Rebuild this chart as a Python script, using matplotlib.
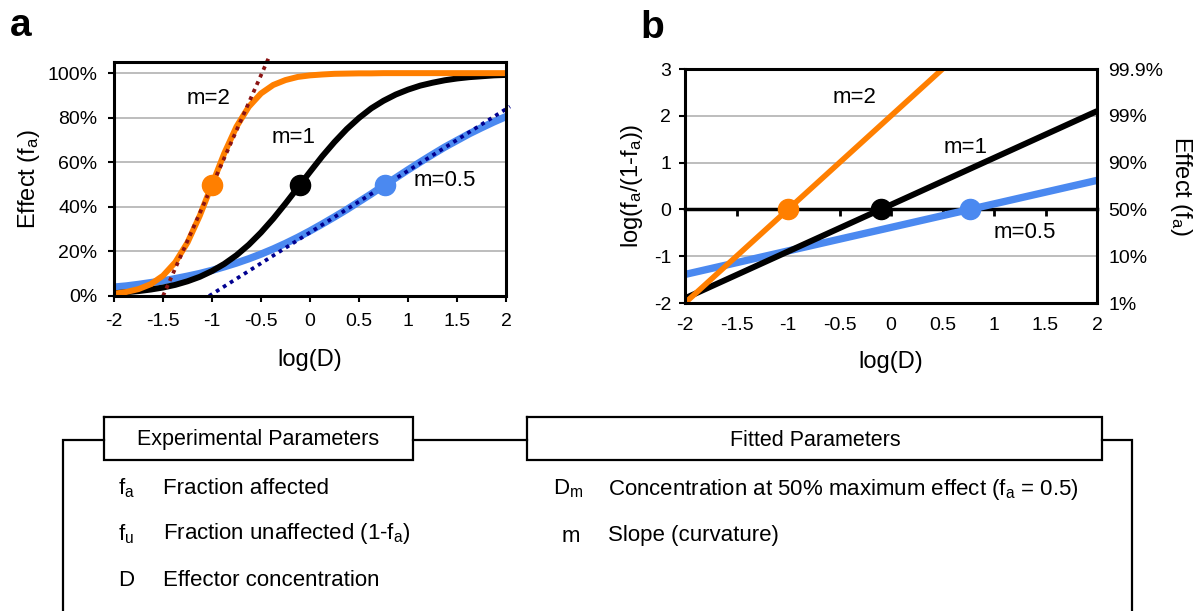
import matplotlib
matplotlib.use("Agg")
import matplotlib.pyplot as plt

plt.rcParams['font.family'] = ['Liberation Sans', 'DejaVu Sans']
plt.rcParams['mathtext.fontset'] = 'custom'
plt.rcParams['mathtext.rm'] = 'Liberation Sans'
plt.rcParams['mathtext.it'] = 'Liberation Sans'
plt.rcParams['mathtext.default'] = 'regular'

# ---------------- data ----------------
x_a = [-2.0, -1.875, -1.75, -1.625, -1.5, -1.375, -1.25, -1.125, -1.0,
       -0.875, -0.75, -0.625, -0.5, -0.375, -0.25, -0.125, 0.0,
       0.125, 0.25, 0.375, 0.5, 0.625, 0.75, 0.875, 1.0,
       1.125, 1.25, 1.375, 1.5, 1.625, 1.75, 1.875, 2.0]
fa_m2 = [0.010, 0.018, 0.031, 0.053, 0.091, 0.151, 0.240, 0.360, 0.500,
         0.640, 0.760, 0.849, 0.909, 0.947, 0.969, 0.983, 0.990,
         0.994, 0.997, 0.998, 0.999, 0.999, 1.0, 1.0, 1.0,
         1.0, 1.0, 1.0, 1.0, 1.0, 1.0, 1.0, 1.0]
fa_m1 = [0.012, 0.017, 0.022, 0.029, 0.038, 0.050, 0.066, 0.086, 0.112,
         0.144, 0.183, 0.230, 0.285, 0.347, 0.415, 0.486, 0.557,
         0.627, 0.691, 0.749, 0.799, 0.842, 0.876, 0.904, 0.926,
         0.944, 0.957, 0.968, 0.976, 0.982, 0.986, 0.990, 0.992]
fa_m05 = [0.040, 0.045, 0.052, 0.060, 0.068, 0.078, 0.089, 0.101, 0.115,
          0.131, 0.148, 0.167, 0.188, 0.211, 0.236, 0.263, 0.292,
          0.323, 0.355, 0.388, 0.423, 0.458, 0.495, 0.530, 0.566,
          0.601, 0.635, 0.668, 0.698, 0.728, 0.755, 0.781, 0.805]

dm_x = [-1.0, -0.1, 0.77]       # log(Dm) for m=2, m=1, m=0.5
dm_fa = [0.5, 0.5, 0.5]
dm_logit = [0.0, 0.0, 0.0]

tan_m2_x = [-1.5, -0.42]
tan_m2_y = [0.0, 1.07]
tan_m05_x = [-1.03, 2.04]
tan_m05_y = [0.0, 0.85]

x_b = [-2.0, 2.0]
logit_m2 = [-2.0, 6.0]
logit_m1 = [-1.9, 2.1]
logit_m05 = [-1.39, 0.62]

xticks = [-2, -1.5, -1, -0.5, 0, 0.5, 1, 1.5, 2]
xticklabels = ['-2', '-1.5', '-1', '-0.5', '0', '0.5', '1', '1.5', '2']
yticks_a = [0, 0.2, 0.4, 0.6, 0.8, 1.0]
yticklabels_a = ['0%', '20%', '40%', '60%', '80%', '100%']
yticks_b = [-2, -1, 0, 1, 2, 3]
yticklabels_b = ['-2', '-1', '0', '1', '2', '3']
yticklabels_b_right = ['1%', '10%', '50%', '90%', '99%', '99.9%']

ORANGE = '#FF7F00'
BLUE = '#4B89F0'
BLACK = '#000000'
GRID = '#BDBDBD'

W, H = 1194, 611
fig = plt.figure(figsize=(W / 100, H / 100), dpi=100)


def px_axes(l, t, r, b):
    return fig.add_axes([l / W, 1 - b / H, (r - l) / W, (b - t) / H])


TICK_FS = 14
LAB_FS = 17
ANN_FS = 16
MS = 14.5

# ---------------- panel a ----------------
ax = px_axes(114, 62, 506, 296)
ax.set_xlim(-2, 2)
ax.set_ylim(0, 1.05)
for y in yticks_a[1:]:
    ax.axhline(y, color=GRID, lw=1.4, zorder=1)
ax.plot(x_a, fa_m05, color=BLUE, lw=5.3, zorder=3)
ax.plot(x_a, fa_m1, color=BLACK, lw=4.3, zorder=4)
ax.plot(x_a, fa_m2, color=ORANGE, lw=4.3, zorder=5)
ax.plot(tan_m2_x, tan_m2_y, color='#8B1414', lw=2.7, dashes=(1, 1.2),
        zorder=6, clip_on=False)
ax.plot(tan_m05_x, tan_m05_y, color='#000090', lw=2.7, dashes=(1, 1.2),
        zorder=6, clip_on=False)
for xx, yy, c in zip(dm_x, dm_fa, [ORANGE, BLACK, BLUE]):
    ax.plot([xx], [yy], 'o', ms=MS, color=c, mec=c, zorder=7)
ax.text(-1.04, 0.885, 'm=2', fontsize=ANN_FS, ha='center', va='center')
ax.text(-0.17, 0.713, 'm=1', fontsize=ANN_FS, ha='center', va='center')
ax.text(1.38, 0.52, 'm=0.5', fontsize=ANN_FS, ha='center', va='center')
ax.set_xticks(xticks)
ax.set_xticklabels(xticklabels, fontsize=TICK_FS)
ax.set_yticks(yticks_a)
ax.set_yticklabels(yticklabels_a, fontsize=TICK_FS)
ax.tick_params(axis='both', direction='out', length=4, width=1.5, pad=8)
for s in ax.spines.values():
    s.set_linewidth(2.2)
    s.set_zorder(8)
ax.set_xlabel('log(D)', fontsize=LAB_FS, labelpad=14)
ax.set_ylabel('Effect (f$_a$)', fontsize=LAB_FS, labelpad=4)

# ---------------- panel b ----------------
bx = px_axes(685, 69, 1097, 303)
bx.set_xlim(-2, 2)
bx.set_ylim(-2, 3)
for y in [-1, 1, 2]:
    bx.axhline(y, color=GRID, lw=1.4, zorder=1)
bx.plot(x_b, logit_m05, color=BLUE, lw=5.3, zorder=3, solid_capstyle='butt')
bx.plot(x_b, logit_m1, color=BLACK, lw=4.3, zorder=4, solid_capstyle='butt')
bx.plot(x_b, logit_m2, color=ORANGE, lw=4.0, zorder=5, solid_capstyle='butt')
for xx, yy, c in zip(dm_x, dm_logit, [ORANGE, BLACK, BLUE]):
    bx.plot([xx], [yy], 'o', ms=MS, color=c, mec=c, zorder=7)
bx.text(-0.35, 2.4, 'm=2', fontsize=ANN_FS, ha='center', va='center')
bx.text(0.72, 1.32, 'm=1', fontsize=ANN_FS, ha='center', va='center')
bx.text(1.30, -0.5, 'm=0.5', fontsize=ANN_FS, ha='center', va='center')
bx.set_xticks(xticks)
bx.set_xticklabels(xticklabels, fontsize=TICK_FS)
bx.tick_params(axis='x', length=0, pad=10)
bx.set_yticks(yticks_b)
bx.set_yticklabels(yticklabels_b, fontsize=TICK_FS)
bx.tick_params(axis='y', direction='out', length=4, width=1.5, pad=6)
for s in bx.spines.values():
    s.set_linewidth(2.2)
    s.set_zorder(8)
# zero axis with ticks (Excel style)
sec = bx.secondary_xaxis(0.4)
sec.set_xticks(xticks)
sec.set_xticklabels([])
sec.tick_params(direction='out', length=5, width=2)
sec.spines['bottom'].set_linewidth(2.5)
bx.set_xlabel('log(D)', fontsize=LAB_FS, labelpad=12)
bx.set_ylabel('log(f$_a$/(1-f$_a$))', fontsize=LAB_FS, labelpad=6)
rx = bx.twinx()
rx.set_ylim(-2, 3)
rx.set_yticks(yticks_b)
rx.set_yticklabels(yticklabels_b_right, fontsize=TICK_FS)
rx.tick_params(axis='y', length=0, pad=8)
rx.set_ylabel('Effect (f$_a$)', fontsize=LAB_FS, rotation=270, labelpad=22)
for s in rx.spines.values():
    s.set_visible(False)

# panel letters
fig.text(10 / W, 1 - 26 / H, 'a', fontsize=28, fontweight='bold', va='center')
fig.text(640 / W, 1 - 28 / H, 'b', fontsize=28, fontweight='bold', va='center')

# ---------------- parameter table ----------------
tx = fig.add_axes([0, 0, 1, 1])
tx.set_xlim(0, W)
tx.set_ylim(H, 0)
tx.axis('off')
lc = dict(color='black', lw=1.6, solid_joinstyle='miter')
tx.plot([63, 63, 104], [H + 5, 440, 440], **lc)
tx.plot([413, 527], [440, 440], **lc)
tx.plot([1102, 1132, 1132], [440, 440, H + 5], **lc)
tx.plot([104, 413, 413, 104, 104], [417, 417, 460, 460, 417], **lc)
tx.plot([527, 1102, 1102, 527, 527], [417, 417, 460, 460, 417], **lc)
HFS = 15.5
TFS = 16
tx.text(258, 440, 'Experimental Parameters', fontsize=HFS, ha='center', va='center')
tx.text(815, 440, 'Fitted Parameters', fontsize=HFS, ha='center', va='center')
rows_left = [('f$_a$', 'Fraction affected', 488),
             ('f$_u$', 'Fraction unaffected (1-f$_a$)', 534),
             ('D', 'Effector concentration', 580)]
for sym, desc, y in rows_left:
    tx.text(118, y, sym, fontsize=TFS, ha='left', va='center')
    tx.text(163, y, desc, fontsize=TFS, ha='left', va='center')
rows_right = [('D$_m$', 'Concentration at 50% maximum effect (f$_a$ = 0.5)', 489, 553),
              ('m', 'Slope (curvature)', 536, 562)]
for sym, desc, y, xs in rows_right:
    tx.text(xs, y, sym, fontsize=TFS, ha='left', va='center')
    tx.text(608, y, desc, fontsize=TFS, ha='left', va='center')

fig.savefig('out.png', dpi=100)
